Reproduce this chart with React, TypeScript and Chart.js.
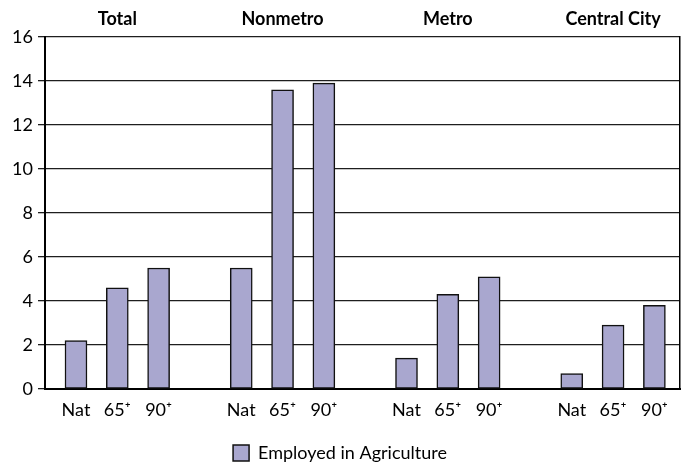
import React, { useEffect, useRef } from "react";
import { Chart, registerables } from "chart.js";

Chart.register(...registerables);

const GROUPS = ["Total", "Nonmetro", "Metro", "Central City"];
const BAR_LABELS = ["Nat", "65\u207A", "90\u207A"];
const TOTAL = [2.2, 4.6, 5.5];
const NONMETRO = [5.5, 13.6, 13.9];
const METRO = [1.4, 4.3, 5.1];
const CENTRAL_CITY = [0.7, 2.9, 3.8];
const SERIES_LABEL = "Employed in Agriculture";
const Y_MIN = 0;
const Y_MAX = 16;
const Y_STEP = 2;

const GROUP_VALUES = [TOTAL, NONMETRO, METRO, CENTRAL_CITY];
const SLOTS_PER_GROUP = 4;

const FONT = "Lato, 'Liberation Sans', sans-serif";

export default function App() {
  const ref = useRef<HTMLCanvasElement | null>(null);

  useEffect(() => {
    document.body.style.margin = "0";
    const canvas = ref.current;
    if (!canvas) return;

    const points: { x: number; y: number }[] = [];
    const slotLabel: Record<number, string> = {};
    const groupCenter: Record<number, string> = {};
    GROUP_VALUES.forEach((vals, g) => {
      vals.forEach((v, b) => {
        const slot = g * SLOTS_PER_GROUP + b;
        points.push({ x: slot, y: v });
        slotLabel[slot] = BAR_LABELS[b];
      });
      groupCenter[g * SLOTS_PER_GROUP + 1] = GROUPS[g];
    });
    const barSlots = Object.keys(slotLabel).map(Number);
    const centerSlots = Object.keys(groupCenter).map(Number);
    const xMin = -0.75;
    const xMax = (GROUPS.length - 1) * SLOTS_PER_GROUP + 2.62;

    const chart = new Chart(canvas, {
      type: "bar",
      data: {
        datasets: [
          {
            label: SERIES_LABEL,
            data: points,
            backgroundColor: "#a9a7cf",
            borderColor: "#111111",
            borderWidth: 1.5,
            borderSkipped: false,
            barThickness: 22,
          } as any,
        ],
      },
      options: {
        animation: false,
        responsive: false,
        maintainAspectRatio: false,
        layout: { padding: { left: 0, right: 4, top: 0, bottom: -6 } },
        plugins: {
          tooltip: { enabled: false },
          legend: {
            position: "bottom",
            labels: {
              boxWidth: 16,
              boxHeight: 16,
              padding: 4,
              color: "#000",
              font: { family: FONT, size: 18 },
            },
          },
        },
        scales: {
          x: {
            type: "linear",
            offset: false,
            min: xMin,
            max: xMax,
            afterBuildTicks: (axis: any) => {
              axis.ticks = barSlots.map((v) => ({ value: v }));
            },
            afterFit: (axis: any) => {
              axis.height = 51;
            },
            ticks: {
              autoSkip: false,
              maxRotation: 0,
              color: "#000",
              padding: 10,
              font: { family: FONT, size: 18 },
              callback: (v: any) => slotLabel[Number(v)] ?? "",
            },
            grid: { display: true, offset: false, drawOnChartArea: false, drawTicks: false },
            border: { display: true, color: "#000", width: 2 },
          },
          xTop: {
            type: "linear",
            position: "top",
            offset: false,
            min: xMin,
            max: xMax,
            afterBuildTicks: (axis: any) => {
              axis.ticks = centerSlots.map((v) => ({ value: v }));
            },
            afterFit: (axis: any) => {
              axis.height = 37;
            },
            ticks: {
              autoSkip: false,
              maxRotation: 0,
              color: "#000",
              padding: 7,
              font: { family: FONT, size: 18, weight: "bold" },
              callback: (v: any) => groupCenter[Number(v)] ?? "",
            },
            grid: { display: false, offset: false, drawTicks: false },
            border: { display: false },
          },
          y: {
            min: Y_MIN,
            max: Y_MAX,
            afterFit: (axis: any) => {
              axis.width = 45;
            },
            ticks: {
              stepSize: Y_STEP,
              color: "#000",
              padding: 5,
              font: { family: FONT, size: 18 },
            },
            grid: { color: "#1e1e1e", lineWidth: 1.3, tickLength: 7 },
            border: { display: true, color: "#000", width: 2 },
          },
          yRight: {
            position: "right",
            min: Y_MIN,
            max: Y_MAX,
            afterFit: (axis: any) => {
              axis.width = 0;
            },
            ticks: { display: false },
            grid: { display: true, drawOnChartArea: false, drawTicks: false },
            border: { display: true, color: "#000", width: 1.5 },
          },
        },
      } as any,
    });

    return () => chart.destroy();
  }, []);

  return (
    <div style={{ width: 684, height: 466, background: "#fff" }}>
      <canvas ref={ref} width={684} height={466} style={{ display: "block" }} />
    </div>
  );
}
